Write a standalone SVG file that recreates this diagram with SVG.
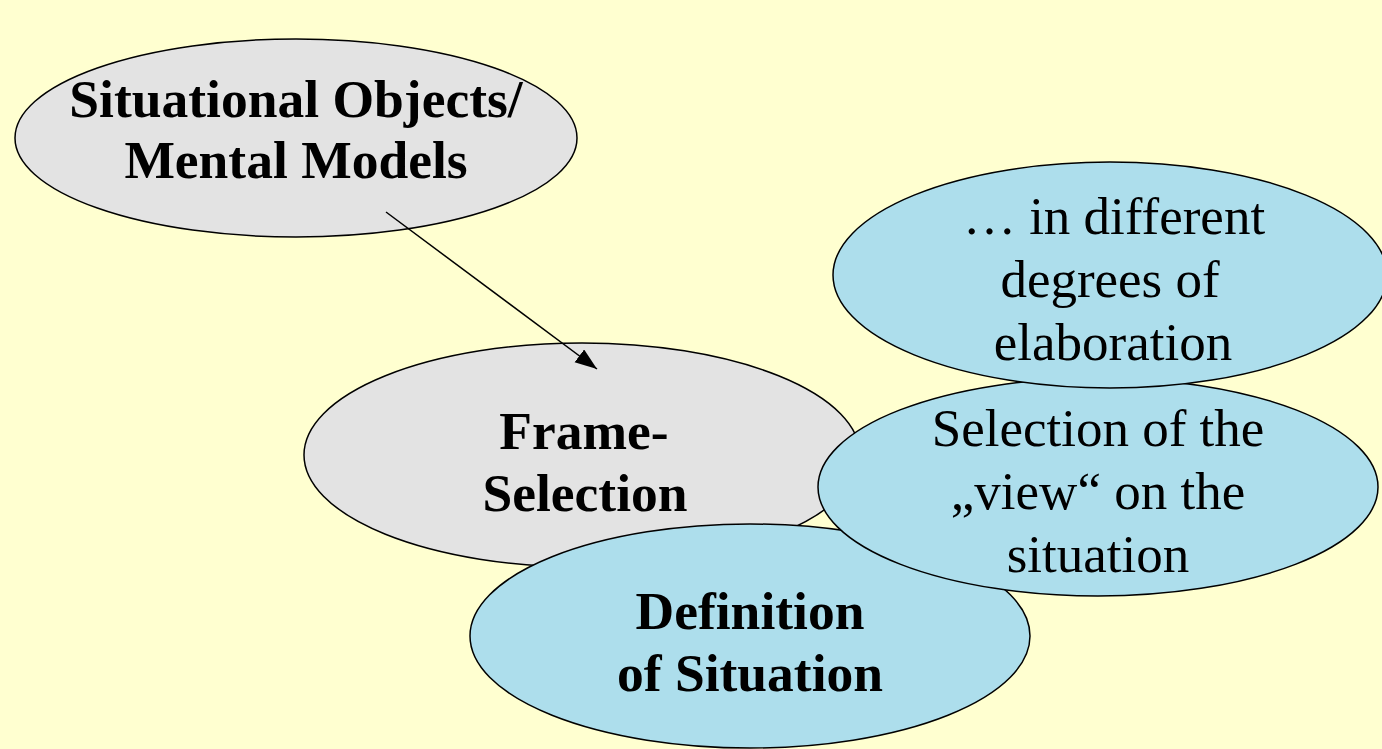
<svg xmlns="http://www.w3.org/2000/svg" width="1382" height="749" viewBox="0 0 1382 749">
<defs>
<style>
.bg{fill:#FFFFD0}
.gray{fill:#E3E3E3;stroke:#000;stroke-width:1.5}
.blue{fill:#ADDEEC;stroke:#000;stroke-width:1.5}
.tb{font-family:"Liberation Serif","Times New Roman",serif;font-weight:bold;font-size:53.5px;fill:#000;text-anchor:middle}
.tr{font-family:"Liberation Serif","Times New Roman",serif;font-size:53px;fill:#000;text-anchor:middle}
.conn{stroke:#000;stroke-width:1.5;fill:none}
</style>
<marker id="arr" markerUnits="userSpaceOnUse" markerWidth="24" markerHeight="18" refX="22" refY="8" orient="auto">
<path d="M0,0 L22,8 L0,16 Z" fill="#000"/>
</marker>
</defs>
<rect class="bg" x="0" y="0" width="1382" height="749"/>
<g id="node-situational">
<ellipse class="gray" cx="296" cy="138" rx="281" ry="99"/>
<text class="tb" x="296" y="117">Situational Objects/</text>
<text class="tb" x="296" y="178">Mental Models</text>
</g>
<g id="node-frame">
<ellipse class="gray" cx="582" cy="455" rx="278" ry="112"/>
<text class="tb" x="584" y="449">Frame-</text>
<text class="tb" x="585" y="511">Selection</text>
</g>
<g id="node-definition">
<ellipse class="blue" cx="750" cy="636" rx="280" ry="112"/>
<text class="tb" x="750" y="629">Definition</text>
<text class="tb" x="750" y="691">of Situation</text>
</g>
<g id="node-view">
<ellipse class="blue" cx="1098" cy="487" rx="280" ry="109"/>
<text class="tr" x="1098" y="446">Selection of the</text>
<text class="tr" x="1098" y="509">„view“ on the</text>
<text class="tr" x="1098" y="572">situation</text>
</g>
<g id="node-elaboration">
<ellipse class="blue" cx="1110" cy="275" rx="277" ry="113"/>
<text class="tr" x="1114" y="234">… in different</text>
<text class="tr" x="1110" y="297">degrees of</text>
<text class="tr" x="1113" y="360">elaboration</text>
</g>
<g id="connectors">
<line class="conn" x1="386" y1="212" x2="597" y2="369" marker-end="url(#arr)"/>
</g>
</svg>
